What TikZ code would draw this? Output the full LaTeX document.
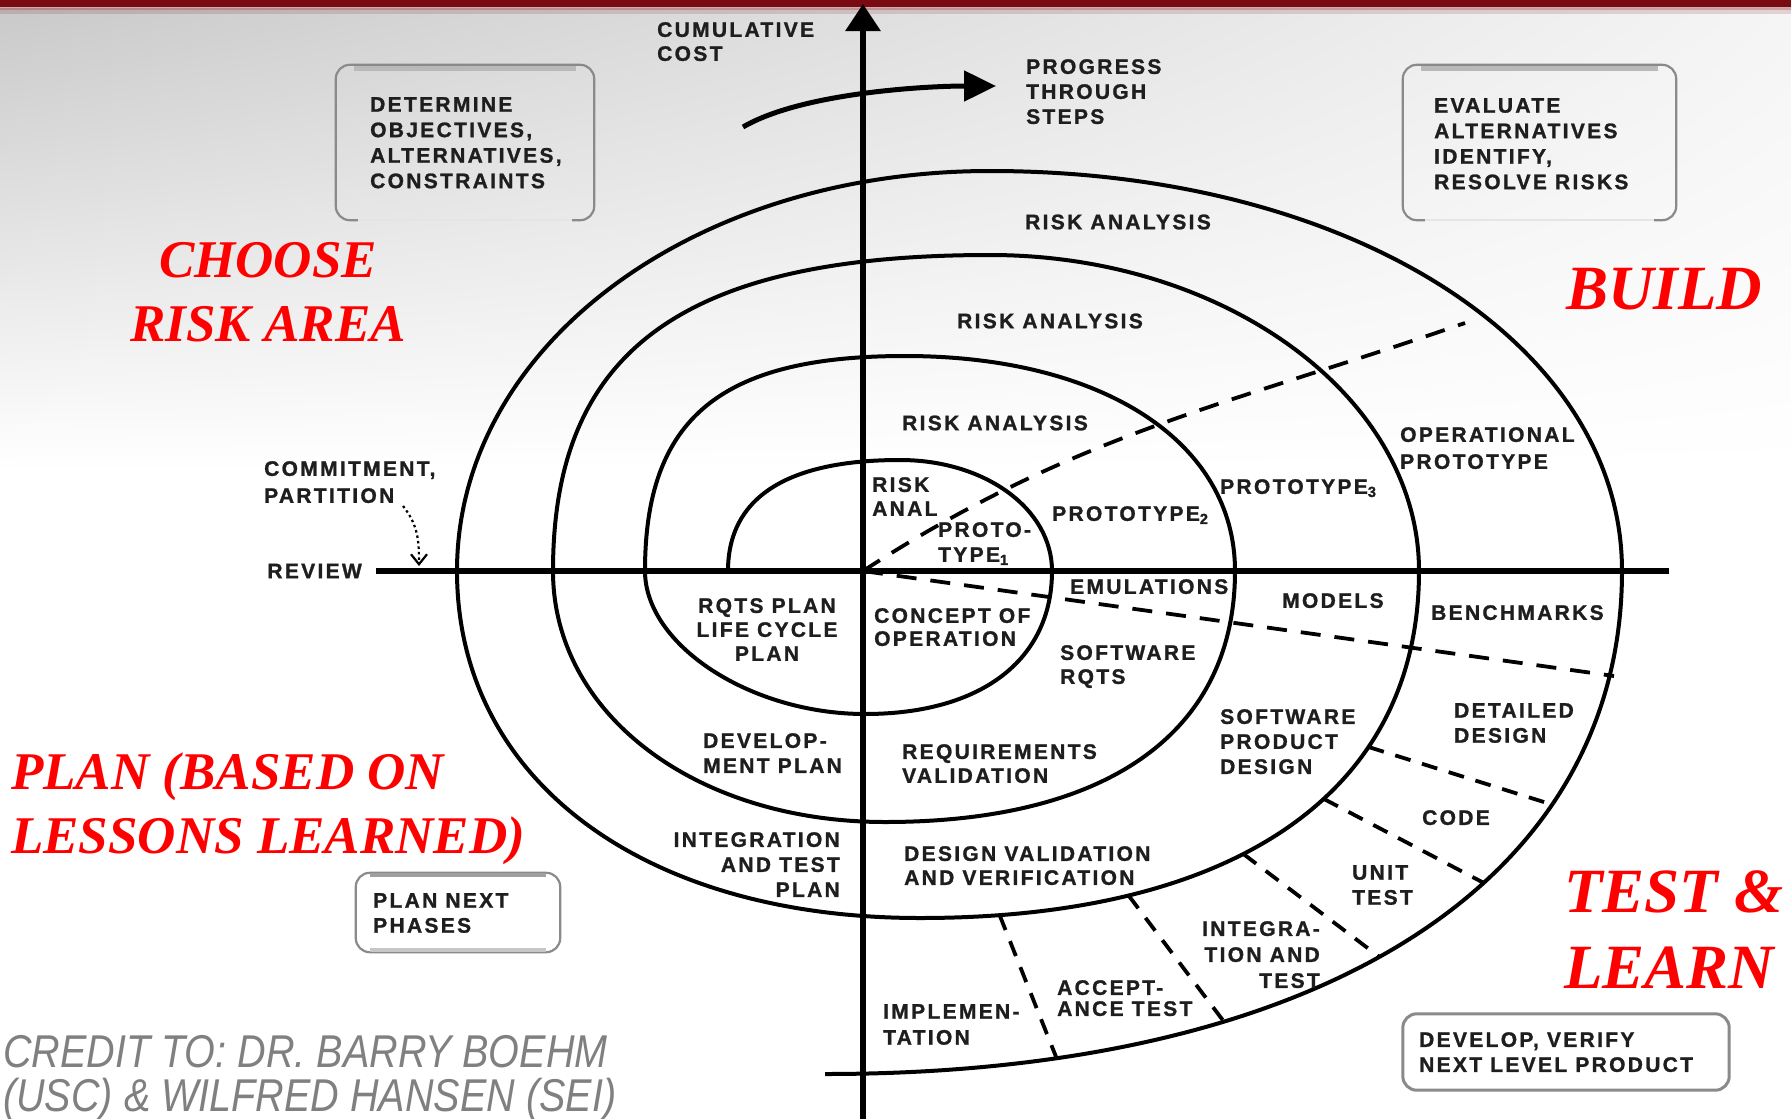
\documentclass[tikz,border=0pt]{standalone}
\usepackage{fontspec}
\usetikzlibrary{arrows.meta,shadings,intersections}
\newfontfamily\lblfont{Liberation Sans}[LetterSpace=11, BoldFeatures={FakeBold=1.2}]
\newfontfamily\redfont{Liberation Serif}
\newfontfamily\creditfont{Liberation Sans}[FakeStretch=0.86]
\definecolor{barred}{HTML}{7A0A12}
\definecolor{ink}{HTML}{1E1E1E}
\definecolor{hotred}{HTML}{FF0000}
\definecolor{creditgray}{HTML}{808080}
\definecolor{boxgray}{HTML}{8A8A8A}
\begin{document}
\begin{tikzpicture}[x=1pt,y=-1pt,
  lbl/.style={inner sep=0pt, text=ink, align=left, font=\lblfont\bfseries\fontsize{21}{#1}\selectfont},
  lbl/.default=25,
  redsmall/.style={inner sep=0pt, text=hotred, font=\redfont\bfseries\itshape\fontsize{53}{#1}\selectfont},
  redsmall/.default=64,
  redbig/.style={inner sep=0pt, text=hotred, font=\redfont\bfseries\itshape\fontsize{63}{#1}\selectfont},
  redbig/.default=76,
  credit/.style={inner sep=0pt, text=creditgray, align=left, font=\creditfont\itshape\fontsize{46}{44}\selectfont},
  spiral/.style={line width=4pt, line join=round},
  axisline/.style={line width=6pt},
  longdash/.style={line width=3.8pt, dash pattern=on 20pt off 14pt},
  radial/.style={line width=3.8pt, dash pattern=on 16pt off 12pt},
  boxedge/.style={draw=boxgray, line width=2.2pt, rounded corners=14pt},
  boxband/.style={draw=gray!55, line width=5pt},
  boxfaint/.style={draw=gray!20, line width=2pt},
]
% canvas and slide background
\useasboundingbox (0,0) rectangle (1791,1119);
\fill[white] (0,0) rectangle (1791,1119);
\shade[upper left=gray!42, upper right=gray!8, lower left=white, lower right=white] (0,8) rectangle (1791,470);
\fill[barred] (0,0) rectangle (1791,7);
\fill[barred, opacity=.35] (0,7) rectangle (1791,10);
\fill[barred, opacity=.15] (0,10) rectangle (1791,14);

% the spiral, one half turn after another
\draw[spiral] (728,571)
  .. controls (728,497.7) and (786.5,460) .. (900,460)
  .. controls (985.1,460) and (1052,508.8) .. (1052,571)
  .. controls (1052,660) and (981,714) .. (865,714)
  .. controls (750.6,714) and (645,645) .. (645,571)
  .. controls (645,418.4) and (720.4,356) .. (905,356)
  .. controls (1103,356) and (1235,442) .. (1235,571)
  .. controls (1235,731.6) and (1109,822) .. (885,822)
  .. controls (695.8,822) and (553,714.1) .. (553,571)
  .. controls (553,349.8) and (684.1,255) .. (990,255)
  .. controls (1226,255) and (1419,397.2) .. (1419,571)
  .. controls (1419,791.3) and (1236.9,918) .. (920,918)
  .. controls (642.2,918) and (457,779.2) .. (457,571)
  .. controls (457,347) and (691.5,171) .. (990,171)
  .. controls (1350.2,171) and (1622,343) .. (1622,571)
  .. controls (1622,882.9) and (1319.1,1074) .. (825,1074);

% lower right quarters of the two outer turns, used to end the phase dividers
\path[name path=bthree] (1419,571) .. controls (1419,791.3) and (1236.9,918) .. (920,918);
\path[name path=bfour] (1622,571) .. controls (1622,882.9) and (1319.1,1074) .. (825,1074);

% axes
\draw[axisline] (376,571) -- (1669,571);
\draw[axisline, -{Triangle[length=27pt,width=34pt]}] (863,1119) -- (863,4);

% progress arrow
\coordinate (pgA) at (743,127);
\coordinate (pgB) at (996,86);
\draw[line width=5pt, -{Triangle[length=32pt,width=30pt]}] (pgA) .. controls (803,92) and (930,86) .. (pgB);

% long dashed rays from the centre
\coordinate (ctr) at (863,571);
\coordinate (upEnd) at (1465,323);
\coordinate (loEnd) at (1614,676);
\draw[longdash] (ctr) .. controls (1076,433) and (1225,406) .. (upEnd);
\draw[longdash] (ctr) -- (loEnd);

% dividers between development phases in the outer ring
\path[name path=gda] (1324,733) -- (1617,825);
\path[name path=gdb] (1284,778) -- (1543,914);
\path[name path=gdc] (1209,828) -- (1435,999);
\path[name path=gdd] (1104,863) -- (1262,1072);
\path[name path=gde] (986,881) -- (1076,1107);
\path[name intersections={of=bthree and gda, by=da1}];
\path[name intersections={of=bfour and gda, by=da2}];
\path[name intersections={of=bthree and gdb, by=db1}];
\path[name intersections={of=bfour and gdb, by=db2}];
\path[name intersections={of=bthree and gdc, by=dc1}];
\path[name intersections={of=bfour and gdc, by=dc2}];
\path[name intersections={of=bthree and gdd, by=dd1}];
\path[name intersections={of=bfour and gdd, by=dd2}];
\path[name intersections={of=bthree and gde, by=de1}];
\path[name intersections={of=bfour and gde, by=de2}];
\draw[radial] (da1) -- (da2);
\draw[radial] (db1) -- (db2);
\draw[radial] (dc1) -- (dc2);
\draw[radial] (dd1) -- (dd2);
\draw[radial] (de1) -- (de2);

% commitment arrow onto the review line
\coordinate (cmA) at (403,506);
\coordinate (cmB) at (419,566);
\draw[line width=2.2pt, dash pattern=on 2.5pt off 3pt, -{Straight Barb[length=10pt,width=16pt]}] (cmA) .. controls (418,525) and (419,540) .. (cmB);

% quadrant boxes
\node[minimum width=258pt, minimum height=155pt, inner sep=0pt] (detbox) at (465,142.5) {};
\draw[boxfaint] ([xshift=18pt]detbox.south west) -- ([xshift=-18pt]detbox.south east);
\draw[boxedge] ([xshift=22pt]detbox.south west) -- (detbox.south west) -- (detbox.north west) -- (detbox.north east) -- (detbox.south east) -- ([xshift=-22pt]detbox.south east);
\draw[boxband] ([xshift=18pt,yshift=-3.5pt]detbox.north west) -- ([xshift=-18pt,yshift=-3.5pt]detbox.north east);

\node[minimum width=273pt, minimum height=155pt, inner sep=0pt] (evabox) at (1539.5,142.5) {};
\draw[boxfaint] ([xshift=18pt]evabox.south west) -- ([xshift=-18pt]evabox.south east);
\draw[boxedge] ([xshift=22pt]evabox.south west) -- (evabox.south west) -- (evabox.north west) -- (evabox.north east) -- (evabox.south east) -- ([xshift=-22pt]evabox.south east);
\draw[boxband] ([xshift=18pt,yshift=-3.5pt]evabox.north west) -- ([xshift=-18pt,yshift=-3.5pt]evabox.north east);

\node[minimum width=204pt, minimum height=79pt, inner sep=0pt] (pnxbox) at (458,912.5) {};
\draw[boxedge] (pnxbox.south west) rectangle (pnxbox.north east);
\draw[draw=gray!75, line width=4pt] ([xshift=14pt,yshift=-2pt]pnxbox.north west) -- ([xshift=-14pt,yshift=-2pt]pnxbox.north east);
\draw[draw=gray!45, line width=4pt] ([xshift=14pt,yshift=2pt]pnxbox.south west) -- ([xshift=-14pt,yshift=2pt]pnxbox.south east);

\node[minimum width=326pt, minimum height=76pt, inner sep=0pt] (devbox) at (1566,1052) {};
\draw[boxedge, line width=3pt] (devbox.south west) rectangle (devbox.north east);

% box texts
\node[lbl=25.5, anchor=north west] (dettext) at (370,97) {DETERMINE\\OBJECTIVES,\\ALTERNATIVES,\\CONSTRAINTS};
\node[lbl=25.5, anchor=north west] (evatext) at (1434,98) {EVALUATE\\ALTERNATIVES\\IDENTIFY,\\RESOLVE RISKS};
\node[lbl, anchor=north west] (pnxtext) at (373,893) {PLAN NEXT\\PHASES};
\node[lbl, anchor=north west] (devtext) at (1419,1032) {DEVELOP, VERIFY\\NEXT LEVEL PRODUCT};

% axis and arrow captions
\node[lbl=24, anchor=north west] (cumcost) at (657,22) {CUMULATIVE\\COST};
\node[lbl, anchor=north west] (progress) at (1026,59) {PROGRESS\\THROUGH\\STEPS};
\node[lbl, anchor=east] (review) at (362,571) {REVIEW};
\node[lbl=27, anchor=north west] (commit) at (264,461) {COMMITMENT,\\PARTITION};

% upper half: analysis and prototypes
\node[lbl] (ra4) at (1118,222) {RISK ANALYSIS};
\node[lbl] (ra3) at (1050,321) {RISK ANALYSIS};
\node[lbl] (ra2) at (995,423) {RISK ANALYSIS};
\node[lbl=24, anchor=north west] (ra1) at (872,477) {RISK\\ANAL};
\node[lbl, anchor=north west] (pt1) at (938,522) {PROTO-\\TYPE\textsubscript{1}};
\node[lbl, anchor=north west] (pt2) at (1052,506) {PROTOTYPE\textsubscript{2}};
\node[lbl, anchor=north west] (pt3) at (1220,479) {PROTOTYPE\textsubscript{3}};
\node[lbl=27, anchor=north west] (opt) at (1400,427) {OPERATIONAL\\PROTOTYPE};

% lower half: plans, requirements, design, build and test
\node[lbl=24, anchor=north, align=center] (lcp) at (767,598) {RQTS PLAN\\LIFE CYCLE\\PLAN};
\node[lbl, anchor=north west] (dvp) at (703,733) {DEVELOP-\\MENT PLAN};
\node[lbl, anchor=north east, align=right] (itp) at (840,832) {INTEGRATION\\AND TEST\\PLAN};
\node[lbl=23, anchor=north west] (cop) at (874,608) {CONCEPT OF\\OPERATION};
\node[lbl, anchor=north west] (emu) at (1070,579) {EMULATIONS};
\node[lbl=24, anchor=north west] (srq) at (1060,645) {SOFTWARE\\RQTS};
\node[lbl, anchor=north west] (mdl) at (1282,593) {MODELS};
\node[lbl, anchor=north west] (bch) at (1431,605) {BENCHMARKS};
\node[lbl=24, anchor=north west] (rqv) at (902,744) {REQUIREMENTS\\VALIDATION};
\node[lbl, anchor=north west] (spd) at (1220,709) {SOFTWARE\\PRODUCT\\DESIGN};
\node[lbl, anchor=north west] (dtd) at (1454,703) {DETAILED\\DESIGN};
\node[lbl, anchor=north west] (code) at (1422,810) {CODE};
\node[lbl, anchor=north west] (unt) at (1352,865) {UNIT\\TEST};
\node[lbl=24, anchor=north west] (dvv) at (904,846) {DESIGN VALIDATION\\AND VERIFICATION};
\node[lbl=26, anchor=north east, align=right] (itt) at (1320,921) {INTEGRA-\\TION AND\\TEST};
\node[lbl=21, anchor=north west] (acc) at (1057,980) {ACCEPT-\\ANCE TEST};
\node[lbl=26, anchor=north west] (imp) at (883,1004) {IMPLEMEN-\\TATION};

% quadrant headings
\node[redsmall, anchor=north, align=center] (chs) at (268,242) {CHOOSE\\RISK AREA};
\node[redsmall, anchor=north west, align=left] (pln) at (11,753) {PLAN (BASED ON\\LESSONS LEARNED)};
\node[redbig, anchor=north west] (bld) at (1566,268) {BUILD};
\node[redbig, anchor=north west, align=left] (tst) at (1564,870) {TEST \&\\LEARN};

% credit line
\node[credit, anchor=north west] (crd) at (3,1035) {CREDIT TO: DR. BARRY BOEHM\\(USC) \& WILFRED HANSEN (SEI)};
\end{tikzpicture}
\end{document}
